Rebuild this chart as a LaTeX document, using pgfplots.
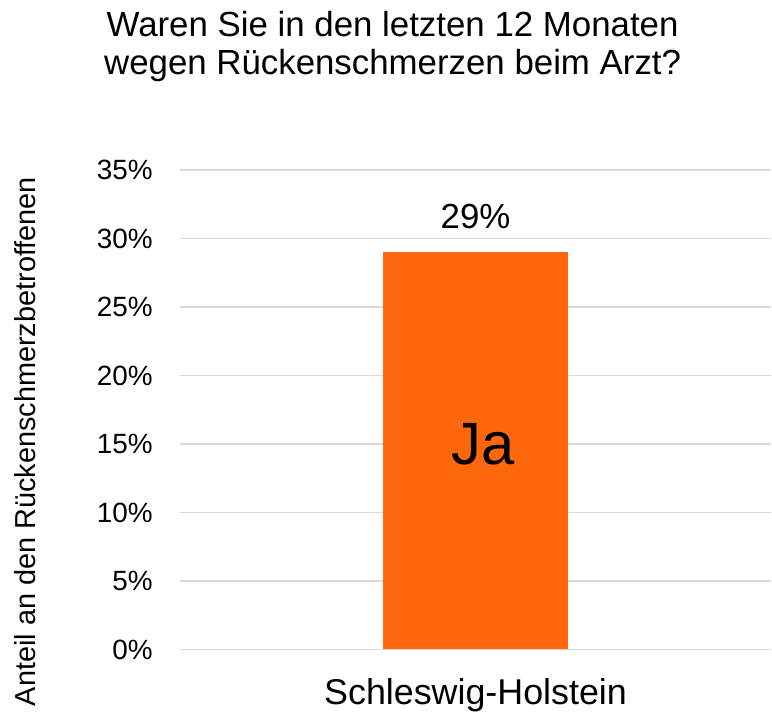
\documentclass[border=0pt]{standalone}
\usepackage{pgfplots}
\pgfplotsset{compat=1.18}
\usepackage{fontspec}
\setmainfont{Liberation Sans}
\definecolor{barorange}{RGB}{255,103,13}
\definecolor{gridgray}{RGB}{217,217,217}
\newcommand{\fs}[1]{\fontsize{#1}{#1}\selectfont}

\begin{document}
\begin{tikzpicture}
\begin{axis}[
 name=ax,
 scale only axis,
 width=592bp, height=480bp,
 ybar,
 bar width=186bp,
 xmin=-1, xmax=1,
 ymin=0, ymax=35,
 ytick={0,5,...,35},
 yticklabel={\pgfmathprintnumber[assume math mode=true]{\tick}\%},
 yticklabel style={font=\fs{28}, anchor=base east, xshift=-27bp, yshift=-10bp, inner sep=0pt},
 xtick={0}, xticklabels={Schleswig-Holstein},
 xticklabel style={font=\fs{36}, anchor=base, yshift=-55bp, inner sep=0pt},
 axis line style={draw=none},
 major tick length=0pt,
 ymajorgrids,
 grid style={gridgray, line width=1.5bp},
 nodes near coords={\pgfmathprintnumber[assume math mode=true]{\pgfplotspointmeta}\%},
 nodes near coords style={font=\fs{35}, anchor=base, yshift=24bp, inner sep=0pt},
]
\addplot[fill=barorange, draw=none] coordinates {(0,29)};
\node[font=\fs{60}, anchor=base, inner sep=0pt, xshift=8bp] at (axis cs:0,13.49) {Ja};
\end{axis}
\node[font=\fs{35}, anchor=base, inner sep=0pt] at ([xshift=213bp, yshift=133bp]ax.north west) {Waren Sie in den letzten 12 Monaten};
\node[font=\fs{35}, anchor=base, inner sep=0pt] at ([xshift=213bp, yshift=95bp]ax.north west) {wegen Rückenschmerzen beim Arzt?};
\node[font=\fs{29}, rotate=90, anchor=center, inner sep=0pt] at ([xshift=-155bp, yshift=208bp]ax.south west) {Anteil an den Rückenschmerzbetroffenen};
\path ([xshift=-180bp,yshift=-65bp]ax.south west) rectangle ([yshift=170bp]ax.north east);
\end{tikzpicture}
\end{document}
